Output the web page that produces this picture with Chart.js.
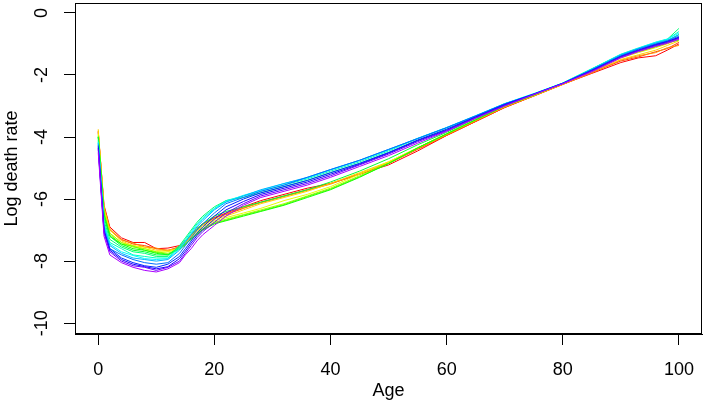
<!DOCTYPE html>
<html>
<head>
<meta charset="utf-8">
<script src="https://cdn.jsdelivr.net/npm/chart.js@4.4.1/dist/chart.umd.min.js"></script>
<style>
  html, body { margin: 0; padding: 0; background: #fff; }
  #mycanvas { display: block; }
</style>
</head>
<body>
<canvas id="mycanvas" width="708" height="404"></canvas>
<script>
var ages = [0,1,2,4,6,8,10,12,14,15,16,17,18,20,22,25,28,32,36,40,45,50,55,60,65,70,75,80,85,90,93,96,98,100];

// log death rates, oldest year (red) to newest (purple)
var c1  = [-3.85,-6.2,-6.9,-7.25,-7.4,-7.4,-7.6,-7.58,-7.5,-7.35,-7.15,-6.95,-6.8,-6.6,-6.45,-6.25,-6.05,-5.85,-5.65,-5.5,-5.2,-4.9,-4.45,-3.95,-3.5,-3.05,-2.68,-2.3,-1.95,-1.6,-1.45,-1.38,-1.2,-1.0];
var c2  = [-3.8,-6.3,-7.0,-7.3,-7.45,-7.5,-7.6,-7.65,-7.55,-7.4,-7.2,-7.0,-6.8,-6.6,-6.5,-6.3,-6.1,-5.9,-5.7,-5.5,-5.2,-4.85,-4.4,-3.95,-3.5,-3.05,-2.67,-2.3,-1.92,-1.55,-1.42,-1.25,-1.15,-0.95];
var c2b = [-3.82,-6.25,-6.95,-7.32,-7.42,-7.55,-7.58,-7.68,-7.52,-7.42,-7.18,-7.02,-6.82,-6.62,-6.48,-6.28,-6.12,-5.92,-5.72,-5.52,-5.18,-4.83,-4.38,-3.93,-3.48,-3.03,-2.68,-2.31,-1.93,-1.52,-1.38,-1.28,-1.12,-1.05];
var c3  = [-3.75,-6.3,-7.0,-7.35,-7.5,-7.55,-7.65,-7.65,-7.6,-7.4,-7.2,-7.0,-6.85,-6.65,-6.55,-6.35,-6.15,-5.95,-5.75,-5.5,-5.15,-4.8,-4.35,-3.9,-3.45,-3.02,-2.66,-2.29,-1.9,-1.5,-1.35,-1.2,-1.05,-0.9];
var c4  = [-3.9,-6.4,-7.1,-7.4,-7.5,-7.6,-7.7,-7.7,-7.6,-7.45,-7.25,-7.05,-6.9,-6.7,-6.6,-6.45,-6.3,-6.05,-5.85,-5.6,-5.2,-4.8,-4.35,-3.9,-3.45,-3.0,-2.65,-2.28,-1.88,-1.45,-1.28,-1.12,-1.0,-0.85];
var c5  = [-3.95,-6.5,-7.1,-7.4,-7.55,-7.6,-7.7,-7.75,-7.6,-7.45,-7.3,-7.1,-6.95,-6.75,-6.65,-6.5,-6.35,-6.15,-5.9,-5.65,-5.25,-4.85,-4.35,-3.9,-3.45,-3.0,-2.64,-2.27,-1.85,-1.42,-1.25,-1.1,-0.98,-0.82];
var c5b = [-3.98,-6.45,-7.15,-7.45,-7.52,-7.65,-7.72,-7.78,-7.62,-7.48,-7.28,-7.12,-6.98,-6.78,-6.68,-6.52,-6.38,-6.18,-5.92,-5.68,-5.28,-4.86,-4.36,-3.9,-3.44,-3.0,-2.65,-2.27,-1.86,-1.41,-1.24,-1.08,-0.96,-0.88];
var c6  = [-4.0,-6.5,-7.2,-7.45,-7.6,-7.65,-7.75,-7.8,-7.6,-7.45,-7.3,-7.15,-7.0,-6.8,-6.7,-6.55,-6.4,-6.2,-5.95,-5.7,-5.3,-4.85,-4.35,-3.9,-3.45,-3.0,-2.64,-2.27,-1.85,-1.4,-1.22,-1.05,-0.95,-0.8];
var c7  = [-4.0,-6.6,-7.2,-7.5,-7.65,-7.7,-7.8,-7.8,-7.55,-7.35,-7.15,-6.95,-6.8,-6.55,-6.4,-6.25,-6.1,-5.9,-5.7,-5.45,-5.1,-4.7,-4.25,-3.85,-3.4,-2.98,-2.63,-2.27,-1.83,-1.38,-1.2,-1.02,-0.9,-0.7];
var c8  = [-4.1,-6.7,-7.3,-7.55,-7.7,-7.75,-7.85,-7.85,-7.5,-7.25,-7.0,-6.75,-6.55,-6.25,-6.05,-5.95,-5.8,-5.6,-5.4,-5.15,-4.85,-4.5,-4.1,-3.75,-3.35,-2.95,-2.62,-2.26,-1.8,-1.35,-1.15,-0.98,-0.85,-0.5];
var c9  = [-4.15,-6.8,-7.4,-7.6,-7.8,-7.85,-7.9,-7.9,-7.55,-7.3,-7.05,-6.8,-6.6,-6.3,-6.05,-5.9,-5.75,-5.55,-5.35,-5.1,-4.8,-4.45,-4.05,-3.7,-3.33,-2.93,-2.61,-2.26,-1.8,-1.33,-1.13,-0.95,-0.85,-0.6];
var c9b = [-4.18,-6.85,-7.45,-7.7,-7.82,-7.92,-7.95,-7.92,-7.6,-7.35,-7.1,-6.85,-6.65,-6.32,-6.08,-5.88,-5.72,-5.5,-5.32,-5.06,-4.76,-4.42,-4.04,-3.69,-3.31,-2.92,-2.6,-2.26,-1.81,-1.34,-1.14,-0.94,-0.84,-0.65];
var c10 = [-4.2,-6.9,-7.5,-7.75,-7.9,-7.95,-8.0,-7.95,-7.65,-7.4,-7.15,-6.9,-6.7,-6.35,-6.1,-5.9,-5.7,-5.5,-5.3,-5.05,-4.75,-4.4,-4.05,-3.7,-3.32,-2.93,-2.61,-2.27,-1.82,-1.35,-1.15,-0.97,-0.88,-0.7];
var c11 = [-4.25,-7.0,-7.6,-7.8,-7.95,-8.05,-8.1,-8.05,-7.75,-7.5,-7.25,-7.0,-6.8,-6.45,-6.15,-5.95,-5.75,-5.55,-5.3,-5.05,-4.75,-4.4,-4.05,-3.7,-3.32,-2.93,-2.62,-2.27,-1.83,-1.38,-1.17,-1.0,-0.9,-0.75];
var c12 = [-4.3,-7.0,-7.6,-7.9,-8.05,-8.15,-8.2,-8.1,-7.85,-7.6,-7.35,-7.1,-6.9,-6.55,-6.25,-6.0,-5.8,-5.6,-5.4,-5.15,-4.85,-4.5,-4.1,-3.75,-3.35,-2.95,-2.62,-2.27,-1.85,-1.4,-1.2,-1.02,-0.92,-0.8];
var c12b = [-4.35,-7.05,-7.65,-7.95,-8.1,-8.18,-8.25,-8.18,-7.92,-7.68,-7.42,-7.18,-6.98,-6.65,-6.35,-6.08,-5.85,-5.65,-5.45,-5.2,-4.88,-4.52,-4.12,-3.78,-3.36,-2.96,-2.62,-2.27,-1.86,-1.41,-1.21,-1.03,-0.93,-0.78];
var c13 = [-4.4,-7.1,-7.7,-8.0,-8.15,-8.2,-8.3,-8.2,-8.0,-7.75,-7.5,-7.25,-7.05,-6.75,-6.45,-6.15,-5.9,-5.7,-5.5,-5.25,-4.9,-4.55,-4.15,-3.8,-3.38,-2.98,-2.63,-2.28,-1.87,-1.42,-1.22,-1.05,-0.95,-0.82];
var c14 = [-4.5,-7.2,-7.8,-8.05,-8.2,-8.3,-8.35,-8.25,-8.05,-7.8,-7.6,-7.35,-7.15,-6.85,-6.55,-6.2,-5.95,-5.75,-5.55,-5.3,-4.95,-4.6,-4.2,-3.82,-3.4,-3.0,-2.63,-2.28,-1.9,-1.45,-1.25,-1.08,-0.98,-0.85];

var curves = [c1,c2,c2b,c3,c4,c5,c5b,c6,c7,c8,c9,c9b,c10,c11,c12,c12b,c13,c14];
var xTicks = [0,20,40,60,80,100];
var yTicks = [-10,-8,-6,-4,-2,0];

var FONT = '"Liberation Sans", Arial, sans-serif';

// rainbow colours, red -> purple
var datasets = [];
for (var i = 0; i < curves.length; i++) {
  var hue = Math.round(i / (curves.length - 1) * 280);
  var pts = [];
  for (var j = 0; j < ages.length; j++) {
    pts.push({x: ages[j], y: curves[i][j]});
  }
  datasets.push({
    data: pts,
    borderColor: 'hsl(' + hue + ',100%,50%)',
    borderWidth: 1,
    pointRadius: 0,
    tension: 0,
    fill: false,
    order: curves.length - i
  });
}

// R style box + rotated y labels
var boxPlugin = {
  id: 'box',
  afterDraw: function(chart) {
    var ctx = chart.ctx, a = chart.chartArea;
    ctx.save();
    ctx.strokeStyle = '#000';
    ctx.lineWidth = 1;
    ctx.strokeRect(Math.round(a.left) + 0.5, Math.round(a.top) + 0.5,
                   Math.round(a.right - a.left) - 1, Math.round(a.bottom - a.top) - 1);
    var ys = chart.scales.y;
    ctx.fillStyle = '#000';
    ctx.font = '18px ' + FONT;
    ctx.textAlign = 'center';
    ctx.textBaseline = 'middle';
    yTicks.forEach(function(v) {
      var py = ys.getPixelForValue(v);
      ctx.save();
      ctx.translate(42, py);
      ctx.rotate(-Math.PI / 2);
      ctx.fillText(String(v), 0, 0);
      ctx.restore();
    });
    ctx.restore();
  }
};

var ctx = document.getElementById('mycanvas');
var chart = new Chart(ctx, {
  type: 'line',
  data: { datasets: datasets },
  options: {
    responsive: false,
    animation: false,
    devicePixelRatio: 1,
    layout: { padding: { left: 0, right: 2, top: 3, bottom: 0 } },
    plugins: { legend: { display: false }, tooltip: { enabled: false } },
    scales: {
      x: {
        type: 'linear',
        min: -4,
        max: 104,
        afterBuildTicks: function(s) { s.ticks = xTicks.map(function(v){ return {value: v}; }); },
        afterFit: function(s) { s.height = 70; },
        grid: { display: true, drawOnChartArea: false, drawTicks: true, tickLength: 11, color: '#000', lineWidth: 1 },
        border: { display: true, color: '#000', width: 1 },
        ticks: { color: '#000', font: { size: 18, family: FONT }, padding: 14, maxRotation: 0, autoSkip: false },
        title: { display: true, text: 'Age', color: '#000', font: { size: 18, family: FONT }, padding: { top: 0, bottom: 2 } }
      },
      y: {
        type: 'linear',
        min: -10.35,
        max: 0.32,
        afterBuildTicks: function(s) { s.ticks = yTicks.map(function(v){ return {value: v}; }); },
        afterFit: function(s) { s.width = 75; },
        grid: { display: true, drawOnChartArea: false, drawTicks: true, tickLength: 11, color: '#000', lineWidth: 1 },
        border: { display: true, color: '#000', width: 1 },
        ticks: { display: false },
        title: { display: true, text: 'Log death rate', color: '#000', font: { size: 18, family: FONT }, padding: { top: 1, bottom: 0 } }
      }
    }
  },
  plugins: [boxPlugin]
});
</script>
</body>
</html>
